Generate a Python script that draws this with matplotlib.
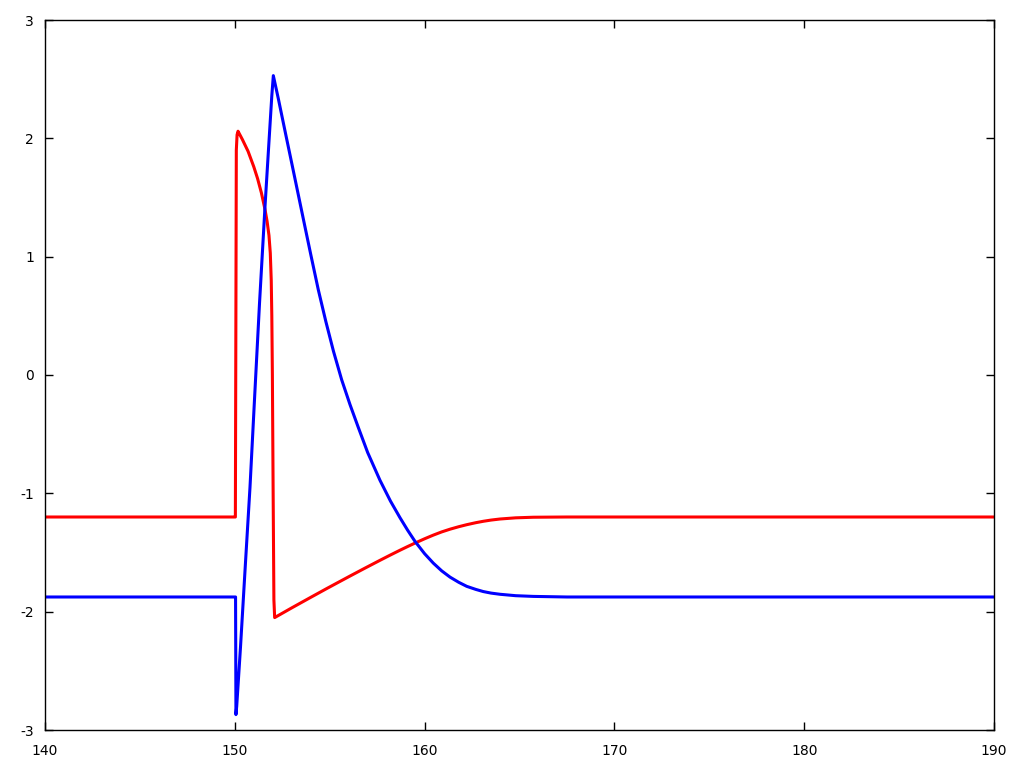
import matplotlib
matplotlib.use("Agg")
import matplotlib.pyplot as plt

# red trace
red_t = [140.0, 150.0, 150.03, 150.08, 150.12, 150.17, 150.4, 150.7, 151.0,
         151.2, 151.4, 151.59, 151.7, 151.8, 151.87, 151.92, 151.95, 151.98,
         152.02, 152.06, 152.1, 153.0, 154.0, 154.84, 155.5, 156.07, 156.8,
         157.65, 158.2, 158.7, 159.1, 159.5, 160.0, 160.46, 160.9, 161.34,
         161.8, 162.22, 162.7, 163.1, 163.5, 163.97, 164.8, 165.73, 167.5,
         170.0, 190.0]
red_v = [-1.2, -1.2, -1.2, 1.9, 2.03, 2.06, 1.99, 1.89, 1.76,
         1.66, 1.54, 1.40, 1.30, 1.18, 1.03, 0.80, 0.5, 0.0,
         -1.0, -1.9, -2.05, -1.968, -1.879, -1.805, -1.748, -1.699, -1.637,
         -1.566, -1.521, -1.481, -1.45, -1.42, -1.384, -1.353, -1.326, -1.303,
         -1.282, -1.265, -1.248, -1.236, -1.226, -1.217, -1.207, -1.202, -1.2,
         -1.2, -1.2]

# blue trace
blue_t = [140.0, 150.0, 150.04, 150.06, 150.1, 150.3, 150.55, 150.8, 151.05,
          151.3, 151.59, 151.8, 151.95, 152.03, 152.3, 152.7, 153.0, 153.35,
          153.7, 154.0, 154.4, 154.8, 155.2, 155.63, 156.07, 156.5, 157.0,
          157.65, 158.2, 158.7, 159.1, 159.49, 160.0, 160.46, 160.9, 161.34,
          161.8, 162.22, 162.7, 163.09, 163.5, 163.97, 164.8, 165.73, 167.5,
          170.0, 190.0]
blue_v = [-1.876, -1.876, -1.876, -2.87, -2.80, -2.30, -1.62, -0.95, -0.17,
          0.6, 1.42, 1.97, 2.36, 2.53, 2.33, 2.02, 1.79, 1.52,
          1.25, 1.02, 0.72, 0.45, 0.20, -0.04, -0.25, -0.44, -0.655,
          -0.89, -1.065, -1.205, -1.31, -1.405, -1.51, -1.59, -1.655, -1.708,
          -1.752, -1.786, -1.812, -1.83, -1.843, -1.853, -1.865, -1.871, -1.876,
          -1.876, -1.876]

x_ticks = [140, 150, 160, 170, 180, 190]
y_ticks = [-3, -2, -1, 0, 1, 2, 3]

plt.rcParams["axes.unicode_minus"] = False
plt.rcParams["font.family"] = "DejaVu Sans"

fig = plt.figure(figsize=(10.24, 7.68), dpi=100)
ax = fig.add_axes([45 / 1024, 38 / 768, 949 / 1024, 710 / 768])

ax.plot(red_t, red_v, color="#ff0000", linewidth=2.2)
ax.plot(blue_t, blue_v, color="#0000ff", linewidth=2.2)

ax.set_xlim(140, 190)
ax.set_ylim(-3, 3)
ax.set_xticks(x_ticks)
ax.set_yticks(y_ticks)
ax.tick_params(direction="in", length=6, width=1, top=True, right=True,
               labelsize=10, colors="black")
ax.tick_params(axis="y", pad=8)
ax.tick_params(axis="x", pad=10)
for s in ax.spines.values():
    s.set_linewidth(1)
    s.set_color("black")

fig.savefig("out.png", dpi=100, facecolor="white")
